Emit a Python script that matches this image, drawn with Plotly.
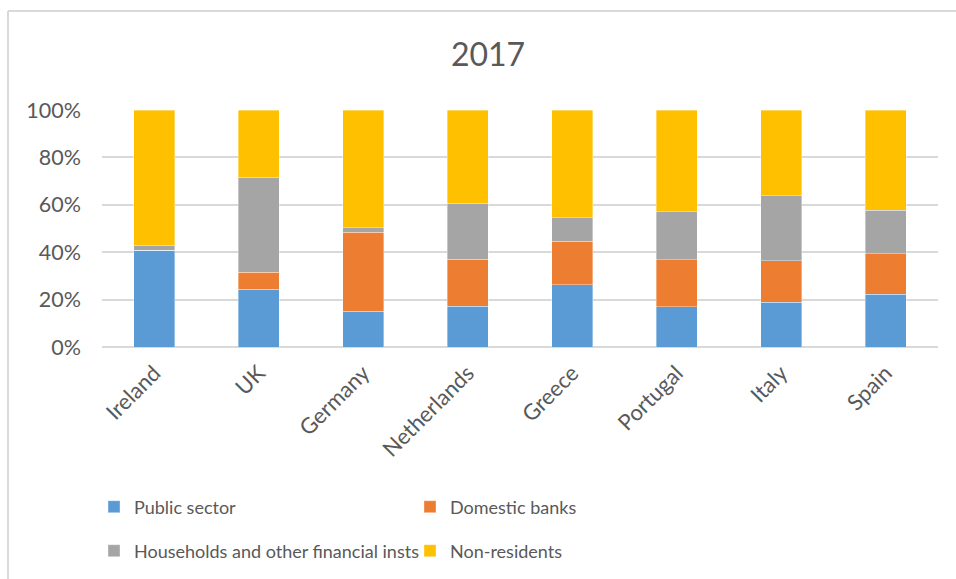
import plotly.graph_objects as go

# Holders of government debt, share of total, 2017
countries = ["Ireland", "UK", "Germany", "Netherlands", "Greece", "Portugal", "Italy", "Spain"]
public_sector = [0.408, 0.244, 0.151, 0.173, 0.262, 0.169, 0.189, 0.223]
domestic_banks = [0.000, 0.071, 0.334, 0.197, 0.184, 0.199, 0.174, 0.171]
households_other = [0.022, 0.402, 0.018, 0.236, 0.099, 0.202, 0.276, 0.182]
non_residents = [0.570, 0.283, 0.497, 0.394, 0.455, 0.430, 0.361, 0.424]

# (name, values, colour, legend row)
series = [
    ("Public sector", public_sector, "#5b9bd5", "legend"),
    ("Domestic banks", domestic_banks, "#ed7d31", "legend"),
    ("Households and other financial insts", households_other, "#a5a5a5", "legend2"),
    ("Non-residents", non_residents, "#ffc000", "legend2"),
]

TEXT = "#595959"
GRID = "#d9d9d9"
FONT = "Lato"

W, H = 956, 579
PL, PR, PT, PB = 102, 938, 110, 347  # plot area in pixels


def px_to_paper_y(py):
    return (PB - py) / (PB - PT)


def px_to_paper_x(px):
    return (px - PL) / (PR - PL)


fig = go.Figure()
for name, vals, color, leg in series:
    fig.add_trace(go.Bar(
        x=countries, y=vals, name=name, legend=leg,
        marker=dict(color=color, line=dict(color="rgba(255,255,255,0.6)", width=0.6)),
    ))

legend_common = dict(
    orientation="h", xanchor="left", yanchor="middle",
    xref="container", yref="container",
    entrywidth=271, entrywidthmode="pixels",
    font=dict(family=FONT, size=18, color=TEXT),
    traceorder="normal", itemclick=False, bgcolor="rgba(0,0,0,0)",
)

fig.update_layout(
    barmode="stack",
    bargap=0.61,
    width=W, height=H,
    margin=dict(l=PL, r=W - PR, t=PT, b=H - PB, autoexpand=False),
    paper_bgcolor="white", plot_bgcolor="white",
    font=dict(family=FONT, color=TEXT, size=20),
    title=dict(text="2017", x=488 / W, xanchor="center", y=1 - 55 / H, yanchor="middle",
               font=dict(family=FONT, size=32, color=TEXT)),
    showlegend=True,
    legend=dict(x=94 / W, y=1 - 507 / H, **legend_common),
    legend2=dict(x=94 / W, y=1 - 551 / H, **legend_common),
)

fig.update_xaxes(
    showgrid=False, showline=False, zeroline=False, ticks="",
    tickangle=-45, tickfont=dict(family=FONT, size=22, color=TEXT),
    ticklabelstandoff=8,
)
fig.update_yaxes(
    range=[0, 1], tickvals=[0, 0.2, 0.4, 0.6, 0.8, 1.0], tickformat=".0%",
    showgrid=True, gridcolor=GRID, gridwidth=1.8,
    zeroline=True, zerolinecolor=GRID, zerolinewidth=1.8,
    showline=False, ticks="",
    tickfont=dict(family=FONT, size=21.5, color=TEXT),
    ticklabelstandoff=20,
)

# Chart frame: top and left edges
fig.add_shape(type="line", xref="paper", yref="paper",
              x0=px_to_paper_x(8), x1=px_to_paper_x(W + 4),
              y0=px_to_paper_y(11), y1=px_to_paper_y(11),
              line=dict(color=GRID, width=2))
fig.add_shape(type="line", xref="paper", yref="paper",
              x0=px_to_paper_x(8), x1=px_to_paper_x(8),
              y0=px_to_paper_y(H + 4), y1=px_to_paper_y(11),
              line=dict(color=GRID, width=2))

fig.write_html("out.html")
